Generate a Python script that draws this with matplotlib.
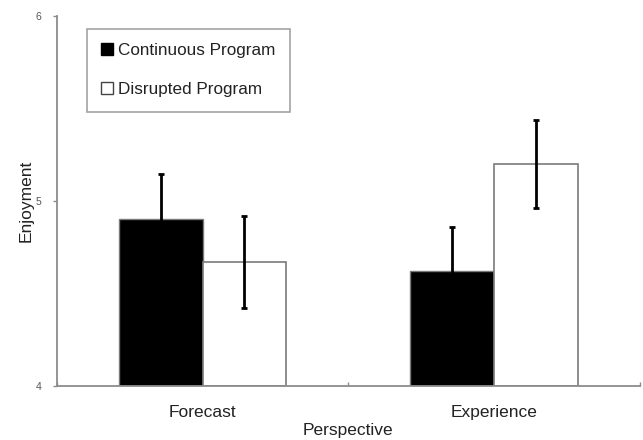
import matplotlib
matplotlib.use("Agg")
import matplotlib.pyplot as plt
from matplotlib.lines import Line2D
import numpy as np

plt.rcParams['font.family'] = ['Liberation Sans', 'DejaVu Sans']

# Data
categories = ["Forecast", "Experience"]
series_names = ["Continuous Program", "Disrupted Program"]
continuous_means = [4.90, 4.62]
continuous_err = [0.245, 0.24]
disrupted_means = [4.67, 5.20]
disrupted_err = [0.25, 0.24]
y_ticks = [4, 5, 6]

fig = plt.figure(figsize=(6.43, 4.40), dpi=100)
ax = fig.add_axes([0.0886, 0.1227, 0.9064, 0.841])

centers = np.array([0.5, 1.5])
w = 0.287
edge = '#7a7a7a'

ax.bar(centers - w / 2, np.array(continuous_means) - 4, w, bottom=4,
       color='black', edgecolor=edge, linewidth=1.0, zorder=2)
ax.bar(centers + w / 2, np.array(disrupted_means) - 4, w, bottom=4,
       color='white', edgecolor=edge, linewidth=1.2, zorder=2)

ax.errorbar(centers - w / 2, continuous_means, yerr=continuous_err, fmt='none',
            ecolor='black', elinewidth=2.0, capsize=2.5, capthick=2.0, zorder=3)
ax.errorbar(centers + w / 2, disrupted_means, yerr=disrupted_err, fmt='none',
            ecolor='black', elinewidth=2.0, capsize=2.5, capthick=2.0, zorder=3)

ax.set_xlim(0, 1.99)
ax.set_ylim(4, 6)

for s in ['top', 'right']:
    ax.spines[s].set_visible(False)
for s in ['left', 'bottom']:
    ax.spines[s].set_color('#8c8c8c')
    ax.spines[s].set_linewidth(1.3)

ax.set_yticks(y_ticks)
ax.set_yticklabels([str(t) for t in y_ticks], fontsize=7.5, color='#555555')
ax.tick_params(axis='y', direction='out', length=3, width=1, color='#8c8c8c', pad=8)

ax.set_xticks([0, 1, 2])
ax.set_xticklabels(['', '', ''])
ax.tick_params(axis='x', which='major', direction='in', length=3, width=1, color='#8c8c8c')
ax.set_xticks(centers, minor=True)
ax.set_xticklabels(categories, minor=True, fontsize=12.5, color='#222222')
ax.tick_params(axis='x', which='minor', length=0, pad=14)

ax.set_ylabel("Enjoyment", fontsize=12.5, color='#222222', labelpad=2)
ax.set_xlabel("Perspective", fontsize=12.5, color='#222222', labelpad=2)

handles = [
    Line2D([], [], marker='s', linestyle='none', markersize=9,
           markerfacecolor='black', markeredgecolor='black'),
    Line2D([], [], marker='s', linestyle='none', markersize=9,
           markerfacecolor='white', markeredgecolor='#444444', markeredgewidth=1.0),
]
leg = ax.legend(handles, series_names, loc='upper left',
                bbox_to_anchor=(0.051, 0.966), fontsize=12.3,
                frameon=True, fancybox=False, edgecolor='#8c8c8c',
                handlelength=0.7, handletextpad=0.3, labelspacing=1.4,
                borderpad=0.85, borderaxespad=0)
leg.get_frame().set_linewidth(1.2)
for t in leg.get_texts():
    t.set_color('#222222')

fig.savefig("out.png", dpi=100)
